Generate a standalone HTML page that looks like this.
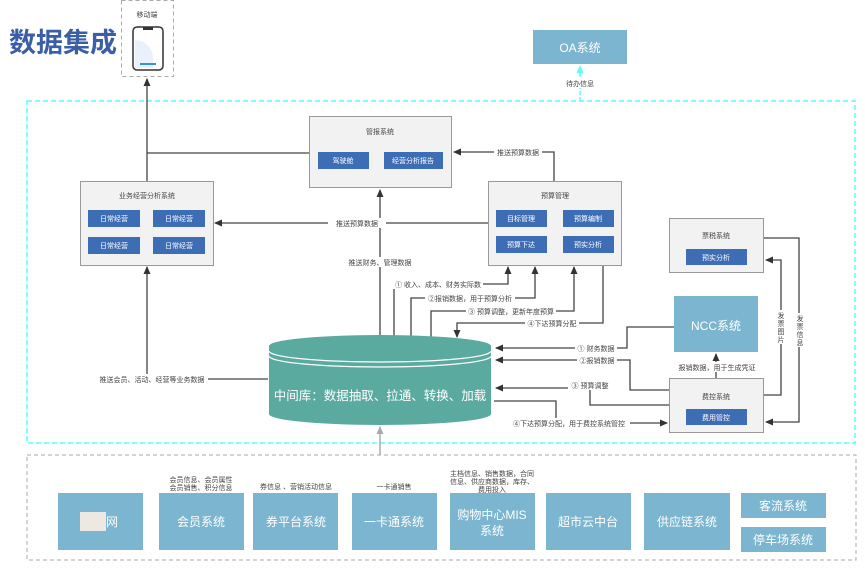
<!DOCTYPE html>
<html><head><meta charset="utf-8"><style>
body{margin:0;background:#fff;}
svg{display:block;font-family:"Liberation Sans","Noto Sans CJK SC",sans-serif;}
.s{font-size:7px;fill:#444;}
.b{font-size:7px;fill:#fff;}
</style></head><body>
<svg width="865" height="572" viewBox="0 0 865 572">
<defs>
<marker id="a" markerWidth="8" markerHeight="8" refX="7" refY="4" orient="auto" markerUnits="userSpaceOnUse"><path d="M0,0.5 L8,4 L0,7.5z" fill="#333"/></marker>
<marker id="c" markerWidth="8" markerHeight="8" refX="7" refY="4" orient="auto" markerUnits="userSpaceOnUse"><path d="M0,0.5 L8,4 L0,7.5z" fill="#5ff"/></marker>
<marker id="g" markerWidth="8" markerHeight="8" refX="7" refY="4" orient="auto" markerUnits="userSpaceOnUse"><path d="M0,0.5 L8,4 L0,7.5z" fill="#aaa"/></marker>
</defs>
<text x="9" y="52" font-size="27" font-weight="bold" fill="#3a5ea8">数据集成</text>
<!-- mobile -->
<rect x="121.5" y="0.5" width="52" height="76" fill="none" stroke="#aaa" stroke-dasharray="4,3"/>
<text x="147" y="17" class="s" text-anchor="middle">移动端</text>
<rect x="133" y="27" width="30" height="43" rx="4" fill="#fff" stroke="#333" stroke-width="1.5"/>
<path d="M135,40 A18,18 0 0 1 153,58 L153,68 L135,68z" fill="#e8f1fc"/>
<rect x="140" y="63" width="16" height="2" fill="#3a8ee6"/>
<rect x="143" y="27" width="10" height="3" fill="#333"/>
<!-- cyan box -->
<rect x="27" y="101" width="828" height="342" fill="none" stroke="#5ff" stroke-width="1.5" stroke-dasharray="5,3"/>
<!-- OA -->
<rect x="533" y="30" width="94" height="34" fill="#7bb5cf"/>
<text x="580" y="52" font-size="12" fill="#fff" text-anchor="middle">OA系统</text>
<line x1="580" y1="101" x2="580" y2="66" stroke="#5ff" stroke-width="1.5" stroke-dasharray="4,2" marker-end="url(#c)"/>
<rect x="562" y="78" width="36" height="10" fill="#fff"/>
<text x="580" y="86" class="s" text-anchor="middle">待办信息</text>
<!-- arrows gray -->
<g stroke="#444" stroke-width="1.3" fill="none">
<line x1="147" y1="181" x2="147" y2="79" marker-end="url(#a)"/>
<line x1="309" y1="153" x2="147" y2="153"/>
<polyline points="554,181 554,152 454,152" marker-end="url(#a)"/>
<line x1="488" y1="223" x2="215" y2="223" marker-end="url(#a)"/>
<line x1="380" y1="337" x2="380" y2="190" marker-end="url(#a)"/>
<polyline points="268,379 147,379 147,267" marker-end="url(#a)"/>
<polyline points="394,337 394,284 508,284 508,267" marker-end="url(#a)"/>
<polyline points="411,337 411,298 535,298 535,267" marker-end="url(#a)"/>
<polyline points="431,337 431,311 574,311 574,267" marker-end="url(#a)"/>
<polyline points="603,265 603,323 457,323 457,337" marker-end="url(#a)"/>
<polyline points="674,327 627,327 627,348 496,348" marker-end="url(#a)"/>
<polyline points="669,390 630,390 630,360 496,360" marker-end="url(#a)"/>
<polyline points="669,405 590,405 590,388 496,388" marker-end="url(#a)"/>
<polyline points="494,401 556,401 556,423 667,423" marker-end="url(#a)"/>
<line x1="716" y1="378" x2="716" y2="354" marker-end="url(#a)"/>
<polyline points="764,395 781,395 781,260 766,260" marker-end="url(#a)"/>
<polyline points="764,238 799,238 799,422 766,422" marker-end="url(#a)"/>
</g>
<line x1="380" y1="455" x2="380" y2="427" stroke="#aaa" stroke-width="1.5" marker-end="url(#g)"/>
<!-- labels on lines -->
<g class="s">
<rect x="328" y="218" width="58" height="10" fill="#fff"/><text x="357" y="226" text-anchor="middle" class="s">推送预算数据</text>
<rect x="494" y="147" width="48" height="10" fill="#fff"/><text x="518" y="155" text-anchor="middle" class="s">推送预算数据</text>
<rect x="346" y="257" width="68" height="10" fill="#fff"/><text x="380" y="265" text-anchor="middle" class="s">推送财务、管理数据</text>
<rect x="96" y="374" width="112" height="10" fill="#fff"/><text x="152" y="382" text-anchor="middle" class="s">推送会员、活动、经营等业务数据</text>
<rect x="393" y="279" width="90" height="10" fill="#fff"/><text x="438" y="287" text-anchor="middle" class="s">① 收入、成本、财务实际数</text>
<rect x="425" y="293" width="90" height="10" fill="#fff"/><text x="470" y="301" text-anchor="middle" class="s">②报销数据，用于预算分析</text>
<rect x="466" y="306" width="90" height="10" fill="#fff"/><text x="511" y="314" text-anchor="middle" class="s">③ 预算调整，更新年度预算</text>
<rect x="525" y="318" width="54" height="10" fill="#fff"/><text x="552" y="326" text-anchor="middle" class="s">④下达预算分配</text>
<rect x="575" y="343" width="42" height="10" fill="#fff"/><text x="596" y="351" text-anchor="middle" class="s">① 财务数据</text>
<rect x="577" y="355" width="40" height="10" fill="#fff"/><text x="597" y="363" text-anchor="middle" class="s">②报销数据</text>
<rect x="568" y="380" width="44" height="10" fill="#fff"/><text x="590" y="388" text-anchor="middle" class="s">③ 预算调整</text>
<rect x="508" y="418" width="122" height="10" fill="#fff"/><text x="569" y="426" text-anchor="middle" class="s">④下达预算分配，用于费控系统管控</text>
<rect x="676" y="362" width="82" height="10" fill="#fff"/><text x="717" y="370" text-anchor="middle" class="s">报销数据，用于生成凭证</text>
<rect x="776" y="310" width="10" height="34" fill="#fff"/><text x="781" y="318" text-anchor="middle" class="s">发</text><text x="781" y="326" text-anchor="middle" class="s">票</text><text x="781" y="334" text-anchor="middle" class="s">图</text><text x="781" y="342" text-anchor="middle" class="s">片</text>
<rect x="794" y="313" width="10" height="34" fill="#fff"/><text x="800" y="321" text-anchor="middle" class="s">发</text><text x="800" y="329" text-anchor="middle" class="s">票</text><text x="800" y="337" text-anchor="middle" class="s">信</text><text x="800" y="345" text-anchor="middle" class="s">息</text>
</g>
<!-- 管报 -->
<rect x="309.5" y="116.5" width="142" height="71" fill="#f2f2f2" stroke="#999"/>
<text x="380" y="134" class="s" text-anchor="middle">管报系统</text>
<rect x="318" y="152" width="51" height="17" fill="#3d6db5"/><text x="343" y="163" class="b" text-anchor="middle">驾驶舱</text>
<rect x="384" y="152" width="59" height="17" fill="#3d6db5"/><text x="413" y="163" class="b" text-anchor="middle">经营分析报告</text>
<!-- 业务 -->
<rect x="80.5" y="181.5" width="133" height="84" fill="#f2f2f2" stroke="#999"/>
<text x="147" y="198" class="s" text-anchor="middle">业务经营分析系统</text>
<rect x="88" y="210" width="52" height="17" fill="#3d6db5"/><text x="114" y="221" class="b" text-anchor="middle">日常经营</text>
<rect x="153" y="210" width="52" height="17" fill="#3d6db5"/><text x="179" y="221" class="b" text-anchor="middle">日常经营</text>
<rect x="88" y="237" width="52" height="17" fill="#3d6db5"/><text x="114" y="248" class="b" text-anchor="middle">日常经营</text>
<rect x="153" y="237" width="52" height="17" fill="#3d6db5"/><text x="179" y="248" class="b" text-anchor="middle">日常经营</text>
<!-- 预算 -->
<rect x="488.5" y="181.5" width="133" height="84" fill="#f2f2f2" stroke="#999"/>
<text x="555" y="198" class="s" text-anchor="middle">预算管理</text>
<rect x="496" y="210" width="51" height="17" fill="#3d6db5"/><text x="521" y="221" class="b" text-anchor="middle">目标管理</text>
<rect x="563" y="210" width="51" height="17" fill="#3d6db5"/><text x="588" y="221" class="b" text-anchor="middle">预算编制</text>
<rect x="496" y="236" width="51" height="17" fill="#3d6db5"/><text x="521" y="247" class="b" text-anchor="middle">预算下达</text>
<rect x="563" y="236" width="51" height="17" fill="#3d6db5"/><text x="588" y="247" class="b" text-anchor="middle">预实分析</text>
<!-- 票税 -->
<rect x="669.5" y="218.5" width="94" height="54" fill="#f2f2f2" stroke="#999"/>
<text x="716" y="238" class="s" text-anchor="middle">票税系统</text>
<rect x="686" y="249" width="61" height="16" fill="#3d6db5"/><text x="716" y="260" class="b" text-anchor="middle">预实分析</text>
<!-- NCC -->
<rect x="674" y="296" width="84" height="56" fill="#7bb5cf"/>
<text x="716" y="330" font-size="12" fill="#fff" text-anchor="middle">NCC系统</text>
<!-- 费控 -->
<rect x="669.5" y="378.5" width="94" height="54" fill="#f2f2f2" stroke="#999"/>
<text x="716" y="399" class="s" text-anchor="middle">费控系统</text>
<rect x="686" y="409" width="61" height="16" fill="#3d6db5"/><text x="716" y="420" class="b" text-anchor="middle">费用管控</text>
<!-- cylinder -->
<path d="M269,346 L269,414 A111,11 0 0 0 491,414 L491,346z" fill="#5aaaa0"/>
<ellipse cx="380" cy="346" rx="111" ry="11" fill="#5aaaa0"/>
<path d="M269,351 A111,11 0 0 0 491,351 M269,356 A111,11 0 0 0 491,356" fill="none" stroke="#fff" stroke-width="1.2"/>
<text x="380" y="400" font-size="12.5" fill="#fff" text-anchor="middle">中间库：数据抽取、拉通、转换、加载</text>
<!-- bottom -->
<rect x="27" y="455" width="829" height="105" fill="none" stroke="#aaa" stroke-dasharray="4,3"/>
<g font-size="12" fill="#fff" text-anchor="middle">
<rect x="58" y="493" width="85" height="57" fill="#7bb5cf"/><rect x="80" y="512" width="26" height="19" fill="#eee8e3"/><text x="112" y="526">网</text>
<rect x="159" y="493" width="85" height="57" fill="#7bb5cf"/><text x="201" y="526">会员系统</text>
<rect x="253" y="493" width="85" height="57" fill="#7bb5cf"/><text x="296" y="526">券平台系统</text>
<rect x="352" y="493" width="85" height="57" fill="#7bb5cf"/><text x="394" y="526">一卡通系统</text>
<rect x="450" y="493" width="85" height="57" fill="#7bb5cf"/><text x="492" y="519">购物中心MIS</text><text x="492" y="535">系统</text>
<rect x="546" y="493" width="85" height="57" fill="#7bb5cf"/><text x="588" y="526">超市云中台</text>
<rect x="644" y="493" width="86" height="57" fill="#7bb5cf"/><text x="687" y="526">供应链系统</text>
<rect x="741" y="493" width="85" height="25" fill="#7bb5cf"/><text x="783" y="510">客流系统</text>
<rect x="741" y="527" width="85" height="25" fill="#7bb5cf"/><text x="783" y="544">停车场系统</text>
</g>
<g class="s" text-anchor="middle" font-size="6.5">
<text x="201" y="482" class="s">会员信息、会员属性</text><text x="201" y="490" class="s">会员销售、积分信息</text>
<text x="296" y="489" class="s">券信息 、营销活动信息</text>
<text x="394" y="489" class="s">一卡通销售</text>
<text x="492" y="476" class="s">主档信息、销售数据，合同</text><text x="492" y="484" class="s">信息、供应商数据，库存、</text><text x="492" y="492" class="s">费用投入</text>
</g>
</svg>
</body></html>
